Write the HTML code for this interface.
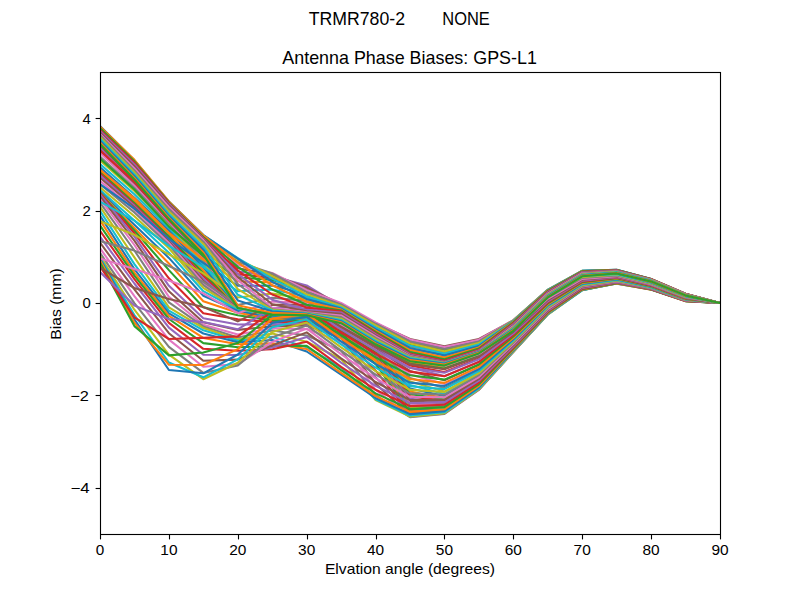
<!DOCTYPE html>
<html><head><meta charset="utf-8"><title>Antenna Phase Biases</title>
<style>html,body{margin:0;padding:0;background:#fff;overflow:hidden}svg{display:block}text{font-family:"Liberation Sans",sans-serif;fill:#000}</style></head><body>
<svg width="800" height="600" viewBox="0 0 800 600">
<rect width="800" height="600" fill="#fff"/>
<defs><clipPath id="c"><rect x="100" y="72" width="620" height="462"/></clipPath></defs>
<g clip-path="url(#c)" fill="none" stroke-width="2.083" stroke-linejoin="round" stroke-linecap="square">
<polyline stroke="#1f77b4" points="100.0,144.0 134.4,179.5 168.9,219.1 203.3,254.5 237.8,308.1 272.2,314.6 306.7,315.2 341.1,323.2 375.6,344.3 410.0,361.2 444.4,365.6 478.9,353.4 513.3,330.8 547.8,297.4 582.2,276.3 616.7,273.4 651.1,281.4 685.6,295.4 720.0,303.0"/>
<polyline stroke="#ff7f0e" points="100.0,145.2 134.4,180.8 168.9,220.0 203.3,255.9 237.8,309.5 272.2,316.1 306.7,316.2 341.1,324.2 375.6,345.1 410.0,362.5 444.4,366.9 478.9,354.4 513.3,331.7 547.8,298.0 582.2,276.8 616.7,273.7 651.1,281.7 685.6,295.6 720.0,303.0"/>
<polyline stroke="#2ca02c" points="100.0,146.1 134.4,181.8 168.9,220.7 203.3,256.8 237.8,310.1 272.2,317.2 306.7,317.3 341.1,325.4 375.6,345.9 410.0,363.9 444.4,368.6 478.9,355.8 513.3,332.7 547.8,298.7 582.2,277.3 616.7,274.1 651.1,282.0 685.6,295.8 720.0,303.0"/>
<polyline stroke="#d62728" points="100.0,146.9 134.4,182.5 168.9,221.3 203.3,257.4 237.8,309.9 272.2,317.7 306.7,318.2 341.1,326.7 375.6,346.8 410.0,365.5 444.4,371.9 478.9,358.4 513.3,333.7 547.8,299.4 582.2,277.8 616.7,274.4 651.1,282.3 685.6,296.0 720.0,303.0"/>
<polyline stroke="#9467bd" points="100.0,148.1 134.4,183.2 168.9,221.9 203.3,257.9 237.8,309.3 272.2,317.6 306.7,318.7 341.1,327.8 375.6,347.8 410.0,367.8 444.4,376.1 478.9,361.6 513.3,334.8 547.8,300.2 582.2,278.4 616.7,274.8 651.1,282.6 685.6,296.2 720.0,303.0"/>
<polyline stroke="#8c564b" points="100.0,150.1 134.4,184.3 168.9,222.5 203.3,258.7 237.8,308.5 272.2,317.1 306.7,318.9 341.1,328.7 375.6,348.9 410.0,370.9 444.4,380.2 478.9,364.7 513.3,335.7 547.8,301.0 582.2,279.0 616.7,275.2 651.1,282.9 685.6,296.4 720.0,303.0"/>
<polyline stroke="#e377c2" points="100.0,152.9 134.4,185.8 168.9,223.3 203.3,259.8 237.8,307.9 272.2,316.5 306.7,318.7 341.1,329.3 375.6,349.8 410.0,374.4 444.4,384.0 478.9,367.5 513.3,336.6 547.8,301.8 582.2,279.6 616.7,275.6 651.1,283.2 685.6,296.7 720.0,303.0"/>
<polyline stroke="#7f7f7f" points="100.0,156.4 134.4,188.0 168.9,224.4 203.3,261.2 237.8,307.6 272.2,316.0 306.7,318.5 341.1,329.5 375.6,350.5 410.0,377.9 444.4,388.1 478.9,370.4 513.3,337.5 547.8,302.5 582.2,280.2 616.7,276.0 651.1,283.5 685.6,296.9 720.0,303.0"/>
<polyline stroke="#bcbd22" points="100.0,160.3 134.4,190.9 168.9,226.0 203.3,263.0 237.8,307.7 272.2,316.0 306.7,318.3 341.1,329.5 375.6,351.0 410.0,381.4 444.4,391.6 478.9,372.9 513.3,338.3 547.8,303.2 582.2,280.8 616.7,276.4 651.1,283.8 685.6,297.1 720.0,303.0"/>
<polyline stroke="#17becf" points="100.0,164.1 134.4,194.3 168.9,228.2 203.3,265.2 237.8,308.0 272.2,316.3 306.7,318.4 341.1,329.5 375.6,351.3 410.0,385.0 444.4,394.1 478.9,374.6 513.3,339.1 547.8,303.8 582.2,281.3 616.7,276.8 651.1,284.1 685.6,297.3 720.0,303.0"/>
<polyline stroke="#1f77b4" points="100.0,167.3 134.4,197.8 168.9,230.8 203.3,267.7 237.8,308.5 272.2,317.0 306.7,318.8 341.1,329.8 375.6,351.5 410.0,388.4 444.4,396.1 478.9,376.2 513.3,340.0 547.8,304.4 582.2,281.8 616.7,277.2 651.1,284.4 685.6,297.5 720.0,303.0"/>
<polyline stroke="#ff7f0e" points="100.0,169.8 134.4,200.8 168.9,233.6 203.3,270.5 237.8,308.9 272.2,317.8 306.7,319.4 341.1,330.3 375.6,351.9 410.0,391.4 444.4,397.9 478.9,377.6 513.3,340.9 547.8,305.1 582.2,282.3 616.7,277.6 651.1,284.7 685.6,297.7 720.0,303.0"/>
<polyline stroke="#2ca02c" points="100.0,171.7 134.4,203.1 168.9,236.3 203.3,273.3 237.8,309.3 272.2,318.6 306.7,320.0 341.1,331.1 375.6,352.7 410.0,394.0 444.4,399.5 478.9,378.8 513.3,341.8 547.8,305.7 582.2,282.8 616.7,277.9 651.1,285.0 685.6,297.9 720.0,303.0"/>
<polyline stroke="#d62728" points="100.0,173.4 134.4,204.7 168.9,238.4 203.3,276.1 237.8,309.6 272.2,319.1 306.7,320.6 341.1,332.2 375.6,353.7 410.0,396.4 444.4,400.8 478.9,379.9 513.3,342.8 547.8,306.5 582.2,283.3 616.7,278.3 651.1,285.3 685.6,298.1 720.0,303.0"/>
<polyline stroke="#9467bd" points="100.0,175.3 134.4,205.9 168.9,240.1 203.3,278.6 237.8,309.7 272.2,319.2 306.7,321.0 341.1,333.2 375.6,354.9 410.0,398.8 444.4,402.1 478.9,380.9 513.3,343.7 547.8,307.2 582.2,283.8 616.7,278.6 651.1,285.5 685.6,298.3 720.0,303.0"/>
<polyline stroke="#8c564b" points="100.0,177.7 134.4,207.3 168.9,241.4 203.3,280.9 237.8,309.7 272.2,319.1 306.7,321.0 341.1,334.0 375.6,356.0 410.0,401.3 444.4,403.4 478.9,381.8 513.3,344.6 547.8,308.0 582.2,284.4 616.7,279.0 651.1,285.8 685.6,298.5 720.0,303.0"/>
<polyline stroke="#e377c2" points="100.0,180.8 134.4,209.4 168.9,242.9 203.3,282.9 237.8,309.5 272.2,318.8 306.7,320.7 341.1,334.3 375.6,357.0 410.0,403.7 444.4,404.8 478.9,382.7 513.3,345.5 547.8,308.7 582.2,285.0 616.7,279.4 651.1,286.1 685.6,298.7 720.0,303.0"/>
<polyline stroke="#7f7f7f" points="100.0,184.2 134.4,212.4 168.9,245.1 203.3,285.1 237.8,309.4 272.2,318.5 306.7,320.3 341.1,334.2 375.6,357.7 410.0,405.9 444.4,406.2 478.9,383.7 513.3,346.3 547.8,309.3 582.2,285.6 616.7,279.8 651.1,286.4 685.6,298.9 720.0,303.0"/>
<polyline stroke="#bcbd22" points="100.0,187.4 134.4,216.2 168.9,248.3 203.3,287.8 237.8,309.5 272.2,318.2 306.7,319.9 341.1,333.8 375.6,358.1 410.0,407.9 444.4,407.7 478.9,384.7 513.3,347.1 547.8,310.0 582.2,286.1 616.7,280.2 651.1,286.7 685.6,299.1 720.0,303.0"/>
<polyline stroke="#17becf" points="100.0,190.1 134.4,220.5 168.9,252.7 203.3,291.2 237.8,309.9 272.2,318.2 306.7,319.7 341.1,333.4 375.6,358.5 410.0,409.4 444.4,409.0 478.9,385.8 513.3,348.0 547.8,310.6 582.2,286.6 616.7,280.5 651.1,287.0 685.6,299.3 720.0,303.0"/>
<polyline stroke="#1f77b4" points="100.0,191.8 134.4,224.7 168.9,257.9 203.3,295.7 237.8,311.0 272.2,318.5 306.7,319.8 341.1,333.1 375.6,359.0 410.0,410.6 444.4,410.1 478.9,386.8 513.3,348.9 547.8,311.3 582.2,287.1 616.7,280.9 651.1,287.3 685.6,299.5 720.0,303.0"/>
<polyline stroke="#ff7f0e" points="100.0,192.7 134.4,228.1 168.9,263.4 203.3,301.2 237.8,312.8 272.2,319.3 306.7,320.2 341.1,333.1 375.6,359.9 410.0,411.6 444.4,410.9 478.9,387.6 513.3,349.8 547.8,311.9 582.2,287.5 616.7,281.2 651.1,287.5 685.6,299.7 720.0,303.0"/>
<polyline stroke="#2ca02c" points="100.0,193.1 134.4,230.5 168.9,270.1 203.3,307.2 237.8,315.3 272.2,320.6 306.7,320.9 341.1,333.6 375.6,363.9 410.0,412.5 444.4,411.5 478.9,388.4 513.3,350.5 547.8,312.6 582.2,288.0 616.7,281.6 651.1,287.8 685.6,299.9 720.0,303.0"/>
<polyline stroke="#d62728" points="100.0,193.5 134.4,233.3 168.9,278.3 203.3,313.2 237.8,319.2 272.2,322.3 306.7,322.1 341.1,334.6 375.6,370.7 410.0,413.3 444.4,412.0 478.9,388.9 513.3,351.1 547.8,313.2 582.2,288.5 616.7,281.9 651.1,288.0 685.6,300.1 720.0,303.0"/>
<polyline stroke="#9467bd" points="100.0,194.5 134.4,236.7 168.9,285.8 203.3,318.3 237.8,324.5 272.2,324.3 306.7,323.6 341.1,336.0 375.6,377.1 410.0,414.3 444.4,412.5 478.9,389.2 513.3,351.5 547.8,313.7 582.2,289.0 616.7,282.2 651.1,288.3 685.6,300.2 720.0,303.0"/>
<polyline stroke="#8c564b" points="100.0,196.4 134.4,240.6 168.9,291.3 203.3,322.2 237.8,329.9 272.2,326.4 306.7,325.4 341.1,337.9 375.6,383.7 410.0,415.4 444.4,413.0 478.9,389.5 513.3,351.7 547.8,314.0 582.2,289.4 616.7,282.5 651.1,288.5 685.6,300.4 720.0,303.0"/>
<polyline stroke="#e377c2" points="100.0,199.1 134.4,245.0 168.9,296.8 203.3,324.7 237.8,334.5 272.2,328.3 306.7,329.1 341.1,341.7 375.6,389.8 410.0,416.6 444.4,413.7 478.9,389.9 513.3,351.9 547.8,314.3 582.2,289.8 616.7,282.8 651.1,288.7 685.6,300.5 720.0,303.0"/>
<polyline stroke="#7f7f7f" points="100.0,202.6 134.4,250.5 168.9,302.4 203.3,326.4 237.8,337.5 272.2,330.5 306.7,335.5 341.1,350.6 375.6,395.2 410.0,417.1 444.4,413.9 478.9,389.7 513.3,352.0 547.8,314.5 582.2,290.0 616.7,283.1 651.1,289.0 685.6,300.7 720.0,303.0"/>
<polyline stroke="#bcbd22" points="100.0,206.6 134.4,257.4 168.9,307.4 203.3,328.0 237.8,339.4 272.2,333.6 306.7,341.7 341.1,359.2 375.6,400.0 410.0,416.5 444.4,413.2 478.9,389.1 513.3,351.5 547.8,314.6 582.2,290.2 616.7,283.3 651.1,289.2 685.6,300.8 720.0,303.0"/>
<polyline stroke="#17becf" points="100.0,210.9 134.4,264.1 168.9,310.7 203.3,330.3 237.8,340.8 272.2,336.8 306.7,347.2 341.1,367.5 375.6,399.3 410.0,415.5 444.4,412.3 478.9,388.3 513.3,350.9 547.8,314.2 582.2,290.3 616.7,283.5 651.1,289.4 685.6,300.9 720.0,303.0"/>
<polyline stroke="#1f77b4" points="100.0,215.5 134.4,269.1 168.9,313.3 203.3,333.5 237.8,342.3 272.2,340.0 306.7,351.5 341.1,374.6 375.6,398.0 410.0,414.1 444.4,411.1 478.9,387.3 513.3,350.3 547.8,313.7 582.2,290.0 616.7,283.6 651.1,289.5 685.6,301.1 720.0,303.0"/>
<polyline stroke="#ff7f0e" points="100.0,220.3 134.4,272.6 168.9,315.9 203.3,337.9 237.8,344.3 272.2,343.4 306.7,349.0 341.1,372.8 375.6,396.1 410.0,411.9 444.4,409.3 478.9,386.0 513.3,349.6 547.8,313.2 582.2,289.6 616.7,283.4 651.1,289.6 685.6,301.2 720.0,303.0"/>
<polyline stroke="#2ca02c" points="100.0,225.4 134.4,275.7 168.9,319.0 203.3,343.1 237.8,347.2 272.2,346.3 306.7,345.8 341.1,370.2 375.6,393.4 410.0,409.1 444.4,407.1 478.9,384.3 513.3,348.6 547.8,312.5 582.2,289.1 616.7,283.1 651.1,289.5 685.6,301.1 720.0,303.0"/>
<polyline stroke="#d62728" points="100.0,230.8 134.4,279.1 168.9,322.8 203.3,348.8 237.8,350.8 272.2,349.2 306.7,341.7 341.1,366.8 375.6,389.8 410.0,406.1 444.4,404.7 478.9,382.5 513.3,347.5 547.8,311.7 582.2,288.6 616.7,282.8 651.1,289.3 685.6,301.0 720.0,303.0"/>
<polyline stroke="#9467bd" points="100.0,236.7 134.4,283.5 168.9,327.6 203.3,354.8 237.8,355.0 272.2,347.5 306.7,337.0 341.1,362.7 375.6,385.9 410.0,403.1 444.4,402.3 478.9,380.7 513.3,346.4 547.8,310.9 582.2,288.0 616.7,282.4 651.1,289.0 685.6,300.8 720.0,303.0"/>
<polyline stroke="#8c564b" points="100.0,242.6 134.4,289.4 168.9,333.2 203.3,360.8 237.8,359.6 272.2,345.4 306.7,332.4 341.1,358.3 375.6,382.0 410.0,400.1 444.4,399.9 478.9,378.9 513.3,345.2 547.8,310.0 582.2,287.3 616.7,281.9 651.1,288.7 685.6,300.6 720.0,303.0"/>
<polyline stroke="#e377c2" points="100.0,248.2 134.4,296.2 168.9,339.6 203.3,366.8 237.8,364.1 272.2,342.0 306.7,328.6 341.1,354.2 375.6,378.3 410.0,396.8 444.4,397.4 478.9,377.0 513.3,344.0 547.8,309.1 582.2,286.5 616.7,281.4 651.1,288.3 685.6,300.3 720.0,303.0"/>
<polyline stroke="#7f7f7f" points="100.0,252.8 134.4,303.2 168.9,346.8 203.3,372.9 237.8,365.4 272.2,337.3 306.7,325.4 341.1,350.6 375.6,374.7 410.0,393.4 444.4,394.8 478.9,375.1 513.3,342.8 547.8,308.2 582.2,285.9 616.7,280.9 651.1,287.9 685.6,300.0 720.0,303.0"/>
<polyline stroke="#bcbd22" points="100.0,256.0 134.4,309.7 168.9,354.6 203.3,379.2 237.8,362.8 272.2,332.1 306.7,322.5 341.1,347.4 375.6,371.1 410.0,389.9 444.4,392.0 478.9,373.2 513.3,341.6 547.8,307.2 582.2,285.1 616.7,280.4 651.1,287.5 685.6,299.7 720.0,303.0"/>
<polyline stroke="#17becf" points="100.0,257.9 134.4,315.0 168.9,362.5 203.3,377.3 237.8,359.4 272.2,327.3 306.7,319.6 341.1,344.4 375.6,367.6 410.0,386.3 444.4,389.1 478.9,371.2 513.3,340.4 547.8,306.2 582.2,284.4 616.7,279.9 651.1,287.2 685.6,299.4 720.0,303.0"/>
<polyline stroke="#1f77b4" points="100.0,259.0 134.4,319.3 168.9,370.0 203.3,373.3 237.8,354.5 272.2,322.9 306.7,316.7 341.1,341.4 375.6,364.2 410.0,382.6 444.4,386.0 478.9,369.1 513.3,339.2 547.8,305.3 582.2,283.6 616.7,279.3 651.1,286.8 685.6,299.2 720.0,303.0"/>
<polyline stroke="#ff7f0e" points="100.0,260.2 134.4,322.7 168.9,364.8 203.3,365.0 237.8,349.1 272.2,318.6 306.7,313.9 341.1,338.3 375.6,360.8 410.0,379.0 444.4,382.9 478.9,366.9 513.3,337.9 547.8,304.4 582.2,282.9 616.7,278.8 651.1,286.3 685.6,298.9 720.0,303.0"/>
<polyline stroke="#2ca02c" points="100.0,262.4 134.4,326.1 168.9,355.4 203.3,352.5 237.8,343.1 272.2,314.8 306.7,311.2 341.1,335.3 375.6,357.3 410.0,375.3 444.4,379.6 478.9,364.5 513.3,336.5 547.8,303.4 582.2,282.1 616.7,278.3 651.1,285.9 685.6,298.6 720.0,303.0"/>
<polyline stroke="#d62728" points="100.0,266.3 134.4,317.3 168.9,339.0 203.3,337.9 237.8,336.4 272.2,311.3 306.7,308.7 341.1,332.3 375.6,353.7 410.0,371.6 444.4,376.2 478.9,362.0 513.3,335.1 547.8,302.4 582.2,281.4 616.7,277.7 651.1,285.5 685.6,298.3 720.0,303.0"/>
<polyline stroke="#9467bd" points="100.0,272.0 134.4,305.6 168.9,319.0 203.3,322.1 237.8,329.3 272.2,308.1 306.7,306.4 341.1,329.4 375.6,350.2 410.0,367.8 444.4,372.7 478.9,359.3 513.3,333.5 547.8,301.3 582.2,280.6 616.7,277.2 651.1,285.1 685.6,298.0 720.0,303.0"/>
<polyline stroke="#8c564b" points="100.0,267.7 134.4,288.0 168.9,298.9 203.3,307.0 237.8,321.4 272.2,304.9 306.7,304.5 341.1,326.8 375.6,346.7 410.0,364.1 444.4,369.3 478.9,356.7 513.3,331.8 547.8,300.1 582.2,279.8 616.7,276.7 651.1,284.6 685.6,297.7 720.0,303.0"/>
<polyline stroke="#e377c2" points="100.0,258.4 134.4,269.0 168.9,280.5 203.3,293.3 237.8,313.2 272.2,301.5 306.7,302.7 341.1,324.4 375.6,343.5 410.0,360.6 444.4,366.0 478.9,354.1 513.3,330.2 547.8,298.8 582.2,278.9 616.7,276.1 651.1,284.2 685.6,297.3 720.0,303.0"/>
<polyline stroke="#7f7f7f" points="100.0,241.1 134.4,250.6 168.9,266.0 203.3,281.9 237.8,305.0 272.2,297.7 306.7,300.9 341.1,322.3 375.6,340.7 410.0,357.3 444.4,362.9 478.9,351.7 513.3,328.6 547.8,297.5 582.2,277.9 616.7,275.5 651.1,283.8 685.6,297.0 720.0,303.0"/>
<polyline stroke="#bcbd22" points="100.0,221.2 134.4,234.8 168.9,254.3 203.3,273.3 237.8,297.5 272.2,293.6 306.7,298.9 341.1,320.3 375.6,338.3 410.0,354.3 444.4,360.0 478.9,349.5 513.3,327.2 547.8,296.3 582.2,276.9 616.7,274.8 651.1,283.3 685.6,296.7 720.0,303.0"/>
<polyline stroke="#17becf" points="100.0,201.6 134.4,220.6 168.9,245.8 203.3,267.1 237.8,291.3 272.2,289.4 306.7,296.7 341.1,318.3 375.6,336.1 410.0,351.6 444.4,357.3 478.9,347.4 513.3,325.9 547.8,295.2 582.2,276.0 616.7,274.2 651.1,282.8 685.6,296.4 720.0,303.0"/>
<polyline stroke="#1f77b4" points="100.0,184.1 134.4,208.7 168.9,238.8 203.3,262.9 237.8,285.8 272.2,285.6 306.7,294.2 341.1,316.2 375.6,334.0 410.0,348.9 444.4,354.6 478.9,345.3 513.3,324.6 547.8,294.2 582.2,275.1 616.7,273.5 651.1,282.3 685.6,296.1 720.0,303.0"/>
<polyline stroke="#ff7f0e" points="100.0,169.8 134.4,198.2 168.9,232.9 203.3,259.4 237.8,281.2 272.2,282.5 306.7,291.6 341.1,313.8 375.6,331.7 410.0,346.4 444.4,352.2 478.9,343.4 513.3,323.5 547.8,293.2 582.2,274.3 616.7,272.9 651.1,281.9 685.6,295.8 720.0,303.0"/>
<polyline stroke="#2ca02c" points="100.0,158.6 134.4,189.5 168.9,226.6 203.3,255.9 237.8,277.4 272.2,279.9 306.7,289.2 341.1,311.2 375.6,329.4 410.0,344.1 444.4,350.2 478.9,341.8 513.3,322.5 547.8,292.3 582.2,273.5 616.7,272.3 651.1,281.4 685.6,295.4 720.0,303.0"/>
<polyline stroke="#d62728" points="100.0,150.5 134.4,181.7 168.9,220.2 203.3,251.9 237.8,274.1 272.2,277.9 306.7,287.1 341.1,308.7 375.6,327.1 410.0,342.3 444.4,348.6 478.9,340.7 513.3,321.7 547.8,291.6 582.2,272.9 616.7,271.8 651.1,281.0 685.6,295.1 720.0,303.0"/>
<polyline stroke="#9467bd" points="100.0,144.0 134.4,175.3 168.9,214.3 203.3,247.7 237.8,271.2 272.2,276.2 306.7,285.4 341.1,306.4 375.6,324.9 410.0,340.6 444.4,347.3 478.9,339.8 513.3,321.0 547.8,290.9 582.2,272.2 616.7,271.3 651.1,280.6 685.6,294.9 720.0,303.0"/>
<polyline stroke="#8c564b" points="100.0,139.0 134.4,170.5 168.9,209.5 203.3,243.6 237.8,268.2 272.2,274.6 306.7,287.6 341.1,304.5 375.6,323.1 410.0,339.0 444.4,346.2 478.9,339.0 513.3,320.5 547.8,290.4 582.2,271.7 616.7,270.9 651.1,280.2 685.6,294.6 720.0,303.0"/>
<polyline stroke="#e377c2" points="100.0,135.3 134.4,167.4 168.9,206.1 203.3,240.0 237.8,264.9 272.2,273.0 306.7,289.9 341.1,303.0 375.6,322.4 410.0,339.4 444.4,346.9 478.9,339.7 513.3,320.1 547.8,290.0 582.2,271.3 616.7,270.5 651.1,279.8 685.6,294.3 720.0,303.0"/>
<polyline stroke="#7f7f7f" points="100.0,132.5 134.4,165.3 168.9,204.0 203.3,237.3 237.8,261.9 272.2,273.4 306.7,292.2 341.1,304.5 375.6,323.8 410.0,341.4 444.4,349.1 478.9,341.4 513.3,320.3 547.8,289.6 582.2,271.0 616.7,270.2 651.1,279.6 685.6,294.1 720.0,303.0"/>
<polyline stroke="#bcbd22" points="100.0,130.0 134.4,163.5 168.9,202.9 203.3,235.7 237.8,259.5 272.2,276.0 306.7,294.5 341.1,306.0 375.6,325.4 410.0,343.5 444.4,351.3 478.9,343.0 513.3,320.6 547.8,289.8 582.2,270.7 616.7,270.0 651.1,279.3 685.6,294.0 720.0,303.0"/>
<polyline stroke="#17becf" points="100.0,127.8 134.4,161.8 168.9,202.2 203.3,235.1 237.8,258.2 272.2,278.7 306.7,296.6 341.1,307.4 375.6,327.3 410.0,345.7 444.4,353.4 478.9,344.6 513.3,321.0 547.8,290.0 582.2,270.8 616.7,269.7 651.1,279.1 685.6,293.9 720.0,303.0"/>
<polyline stroke="#1f77b4" points="100.0,126.1 134.4,160.3 168.9,201.6 203.3,235.1 237.8,258.7 272.2,281.8 306.7,299.0 341.1,308.6 375.6,329.1 410.0,348.0 444.4,355.5 478.9,346.0 513.3,321.4 547.8,290.3 582.2,270.9 616.7,269.8 651.1,279.0 685.6,293.8 720.0,303.0"/>
<polyline stroke="#ff7f0e" points="100.0,126.4 134.4,159.8 168.9,201.4 203.3,235.3 237.8,262.7 272.2,285.3 306.7,301.8 341.1,309.6 375.6,330.7 410.0,350.1 444.4,357.5 478.9,347.4 513.3,321.9 547.8,290.6 582.2,271.2 616.7,269.9 651.1,279.0 685.6,293.8 720.0,303.0"/>
<polyline stroke="#2ca02c" points="100.0,128.1 134.4,161.3 168.9,202.5 203.3,237.1 237.8,266.8 272.2,289.5 306.7,304.8 341.1,310.5 375.6,332.0 410.0,352.0 444.4,359.3 478.9,348.6 513.3,322.6 547.8,291.0 582.2,271.4 616.7,270.1 651.1,279.1 685.6,293.9 720.0,303.0"/>
<polyline stroke="#d62728" points="100.0,129.7 134.4,162.8 168.9,203.3 203.3,238.1 237.8,270.6 272.2,294.5 306.7,307.6 341.1,311.4 375.6,333.1 410.0,353.5 444.4,360.7 478.9,349.7 513.3,323.4 547.8,291.6 582.2,271.8 616.7,270.2 651.1,279.2 685.6,293.9 720.0,303.0"/>
<polyline stroke="#9467bd" points="100.0,131.1 134.4,164.4 168.9,204.1 203.3,238.7 237.8,274.1 272.2,299.7 306.7,309.9 341.1,312.5 375.6,334.1 410.0,354.5 444.4,361.7 478.9,350.6 513.3,324.3 547.8,292.2 582.2,272.2 616.7,270.5 651.1,279.4 685.6,294.0 720.0,303.0"/>
<polyline stroke="#8c564b" points="100.0,132.5 134.4,166.3 168.9,205.2 203.3,239.2 237.8,277.1 272.2,304.3 306.7,311.2 341.1,313.9 375.6,335.2 410.0,355.3 444.4,362.3 478.9,351.3 513.3,325.3 547.8,292.9 582.2,272.7 616.7,270.8 651.1,279.5 685.6,294.1 720.0,303.0"/>
<polyline stroke="#e377c2" points="100.0,133.9 134.4,168.4 168.9,206.9 203.3,240.1 237.8,280.1 272.2,307.7 306.7,312.2 341.1,315.5 375.6,336.5 410.0,355.9 444.4,362.7 478.9,351.7 513.3,326.2 547.8,293.6 582.2,273.2 616.7,271.2 651.1,279.8 685.6,294.3 720.0,303.0"/>
<polyline stroke="#7f7f7f" points="100.0,135.3 134.4,170.5 168.9,209.1 203.3,241.7 237.8,284.0 272.2,309.4 306.7,312.8 341.1,317.1 375.6,338.0 410.0,356.5 444.4,362.8 478.9,351.9 513.3,327.1 547.8,294.4 582.2,273.8 616.7,271.5 651.1,280.0 685.6,294.4 720.0,303.0"/>
<polyline stroke="#bcbd22" points="100.0,136.9 134.4,172.5 168.9,211.6 203.3,244.0 237.8,289.1 272.2,309.9 306.7,313.3 341.1,318.7 375.6,339.5 410.0,357.2 444.4,363.0 478.9,352.1 513.3,327.8 547.8,295.0 582.2,274.4 616.7,271.9 651.1,280.3 685.6,294.6 720.0,303.0"/>
<polyline stroke="#17becf" points="100.0,138.8 134.4,174.5 168.9,214.0 203.3,246.8 237.8,294.8 272.2,310.5 306.7,313.5 341.1,320.0 375.6,341.0 410.0,358.0 444.4,363.2 478.9,352.1 513.3,328.6 547.8,295.7 582.2,274.9 616.7,272.3 651.1,280.6 685.6,294.9 720.0,303.0"/>
<polyline stroke="#1f77b4" points="100.0,140.7 134.4,176.3 168.9,216.1 203.3,249.7 237.8,300.4 272.2,311.5 306.7,313.9 341.1,321.2 375.6,342.3 410.0,359.0 444.4,363.7 478.9,352.3 513.3,329.3 547.8,296.2 582.2,275.4 616.7,272.7 651.1,280.9 685.6,295.1 720.0,303.0"/>
<polyline stroke="#ff7f0e" points="100.0,142.5 134.4,178.0 168.9,217.8 203.3,252.4 237.8,305.2 272.2,312.9 306.7,314.4 341.1,322.2 375.6,343.4 410.0,360.1 444.4,364.5 478.9,352.8 513.3,330.0 547.8,296.8 582.2,275.9 616.7,273.0 651.1,281.2 685.6,295.3 720.0,303.0"/>
<polyline stroke="#2ca02c" points="100.0,144.0 134.4,179.5 168.9,219.1 203.3,254.5 237.8,308.1 272.2,314.6 306.7,315.2 341.1,323.2 375.6,344.3 410.0,361.2 444.4,365.6 478.9,353.4 513.3,330.8 547.8,297.4 582.2,276.3 616.7,273.4 651.1,281.4 685.6,295.4 720.0,303.0"/>
</g>
<rect x="100.5" y="72.5" width="620" height="462" fill="none" stroke="#000" stroke-width="1.11"/>
<g stroke="#000" stroke-width="1.11">
<line x1="100.5" y1="534.5" x2="100.5" y2="539.4"/><line x1="169.5" y1="534.5" x2="169.5" y2="539.4"/><line x1="238.5" y1="534.5" x2="238.5" y2="539.4"/><line x1="307.5" y1="534.5" x2="307.5" y2="539.4"/><line x1="376.5" y1="534.5" x2="376.5" y2="539.4"/><line x1="444.5" y1="534.5" x2="444.5" y2="539.4"/><line x1="513.5" y1="534.5" x2="513.5" y2="539.4"/><line x1="582.5" y1="534.5" x2="582.5" y2="539.4"/><line x1="651.5" y1="534.5" x2="651.5" y2="539.4"/><line x1="720.5" y1="534.5" x2="720.5" y2="539.4"/><line x1="100.5" y1="488.5" x2="95.6" y2="488.5"/><line x1="100.5" y1="395.5" x2="95.6" y2="395.5"/><line x1="100.5" y1="303.5" x2="95.6" y2="303.5"/><line x1="100.5" y1="211.5" x2="95.6" y2="211.5"/><line x1="100.5" y1="118.5" x2="95.6" y2="118.5"/>
</g>
<text x="100.00" y="554.60" font-size="14.40" text-anchor="middle" textLength="8.5" lengthAdjust="spacingAndGlyphs">0</text>
<text x="168.89" y="554.60" font-size="14.40" text-anchor="middle" textLength="17.2" lengthAdjust="spacingAndGlyphs">10</text>
<text x="237.78" y="554.60" font-size="14.40" text-anchor="middle" textLength="17.2" lengthAdjust="spacingAndGlyphs">20</text>
<text x="306.67" y="554.60" font-size="14.40" text-anchor="middle" textLength="17.2" lengthAdjust="spacingAndGlyphs">30</text>
<text x="375.56" y="554.60" font-size="14.40" text-anchor="middle" textLength="17.2" lengthAdjust="spacingAndGlyphs">40</text>
<text x="444.44" y="554.60" font-size="14.40" text-anchor="middle" textLength="17.2" lengthAdjust="spacingAndGlyphs">50</text>
<text x="513.33" y="554.60" font-size="14.40" text-anchor="middle" textLength="17.2" lengthAdjust="spacingAndGlyphs">60</text>
<text x="582.22" y="554.60" font-size="14.40" text-anchor="middle" textLength="17.2" lengthAdjust="spacingAndGlyphs">70</text>
<text x="651.11" y="554.60" font-size="14.40" text-anchor="middle" textLength="17.2" lengthAdjust="spacingAndGlyphs">80</text>
<text x="720.00" y="554.60" font-size="14.40" text-anchor="middle" textLength="17.2" lengthAdjust="spacingAndGlyphs">90</text>
<text x="89.60" y="493.10" font-size="14.40" text-anchor="end" textLength="19.2" lengthAdjust="spacingAndGlyphs">−4</text>
<text x="88.80" y="400.70" font-size="14.40" text-anchor="end" textLength="18.6" lengthAdjust="spacingAndGlyphs">−2</text>
<text x="90.70" y="308.30" font-size="14.40" text-anchor="end" textLength="8.3" lengthAdjust="spacingAndGlyphs">0</text>
<text x="90.70" y="215.90" font-size="14.40" text-anchor="end" textLength="8.3" lengthAdjust="spacingAndGlyphs">2</text>
<text x="90.70" y="123.50" font-size="14.40" text-anchor="end" textLength="8.3" lengthAdjust="spacingAndGlyphs">4</text>
<text x="410.00" y="574.20" font-size="14.40" text-anchor="middle" textLength="170.2" lengthAdjust="spacingAndGlyphs">Elvation angle (degrees)</text>
<text transform="translate(60.7,304) rotate(-90)" font-size="14.40" text-anchor="middle" textLength="71.5" lengthAdjust="spacingAndGlyphs">Bias (mm)</text>
<text x="409.60" y="63.50" font-size="17.80" text-anchor="middle" textLength="254.6" lengthAdjust="spacingAndGlyphs">Antenna Phase Biases: GPS-L1</text>
<text x="308.7" y="24.5" font-size="17.8" textLength="96.3" lengthAdjust="spacingAndGlyphs">TRMR780-2</text>
<text x="442.3" y="24.5" font-size="17.8" textLength="47.5" lengthAdjust="spacingAndGlyphs">NONE</text>
</svg>
</body></html>
